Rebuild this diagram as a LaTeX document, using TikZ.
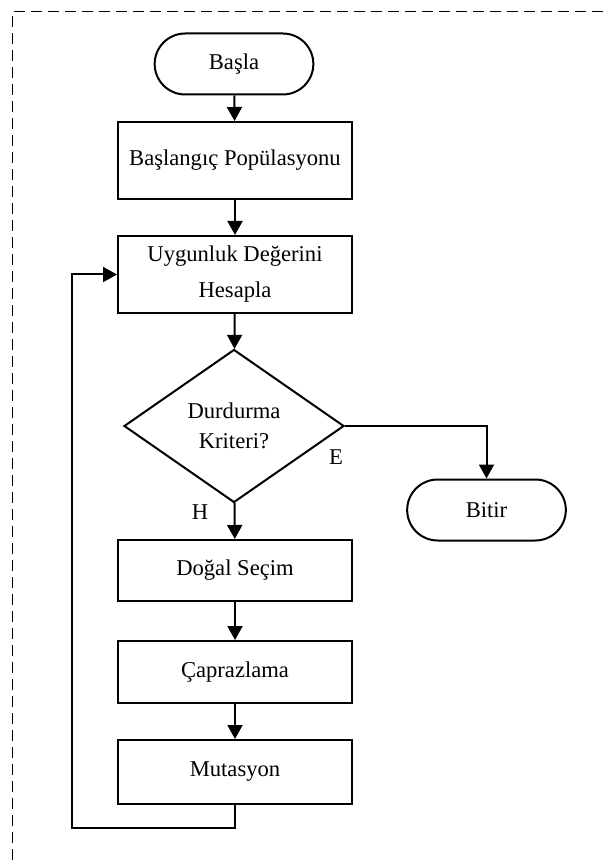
\documentclass[tikz,border=0pt]{standalone}
\usepackage{fontspec}
\setmainfont{Liberation Serif}
\usetikzlibrary{shapes.geometric,shapes.misc,arrows.meta}
\begin{document}
\begin{tikzpicture}[x=0.5pt,y=-0.5pt, line width=1pt, >={Triangle[width=7.5pt,length=7pt]},
main node/.style={rectangle,draw,minimum width=117pt,inner sep=2pt,align=center,font=\fontsize{11.3}{18}\selectfont},
end node/.style={rounded rectangle,draw,minimum width=86pt,minimum height=30.5pt,font=\fontsize{11.3}{14}\selectfont},
test node/.style={diamond,draw,minimum width=110pt,minimum height=76.5pt,inner sep=0pt,align=center,font=\fontsize{11.3}{15}\selectfont},
lbl/.style={font=\fontsize{11.3}{14}\selectfont}]
\useasboundingbox (0,0) rectangle (604,860);
\draw[line width=0.5pt,dash pattern=on 5.5pt off 3pt] (12.5,860) -- (12.5,11.5) -- (604,11.5);
\begin{scope}
\node[end node] (basla) at (234,64) {Başla};
\node[main node,minimum height=38.5pt] (pop) at (235,160.5) {Başlangıç Popülasyonu};
\node[main node,minimum height=38.5pt] (uyg) at (235,274.5) {Uygunluk Değerini\\Hesapla};
\node[test node] (karar) at (234,426) {Durdurma\\Kriteri?};
\node[end node] (bitir) at (486.5,510) {Bitir};
\node[main node,minimum height=30.5pt] (secim) at (235,570.5) {Doğal Seçim};
\node[main node,minimum height=31pt] (capraz) at (235,672) {Çaprazlama};
\node[main node,minimum height=32pt] (mut) at (235,772) {Mutasyon};
\node[lbl] (e) at (336,457) {E};
\node[lbl] (h) at (200,512) {H};
\coordinate (d1) at (72,828);
%\node[main node] (x) at (,) {};
\end{scope}
\begin{scope}
\draw[->] (basla) -- (pop);
\draw[->] (pop) -- (uyg);
\draw[->] (uyg) -- (karar);
\draw[->] (karar.east) -| (bitir.north);
\draw[->] (karar) -- (secim);
\draw[->] (secim) -- (capraz);
\draw[->] (capraz) -- (mut);
\draw[->] (mut.south) |- (d1) |- (uyg.west);
\end{scope}
\end{tikzpicture}
\end{document}
